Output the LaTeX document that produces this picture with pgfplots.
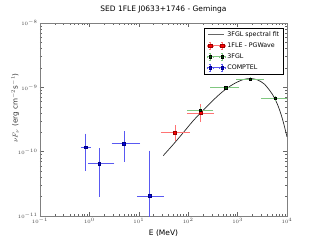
\documentclass[border=0pt]{standalone}
\usepackage{pgfplots}
\pgfplotsset{compat=1.18}
\usepackage{fontspec}
\setmainfont{DejaVu Sans}
\definecolor{errred}{rgb}{1,0.45,0.45}
\definecolor{errgreen}{rgb}{0.5,0.78,0.5}
\definecolor{errblue}{rgb}{0.35,0.35,0.95}
\definecolor{mgreen}{rgb}{0,0.35,0}
\newcommand{\errlegend}[4]{%
  \draw[#1, line width=0.7pt] (0pt,0pt)--(18pt,0pt)
    (3pt,-3.5pt)--(3pt,3.5pt) (15pt,-3.5pt)--(15pt,3.5pt)
    (1.8pt,-3.5pt)--(4.2pt,-3.5pt) (1.8pt,3.5pt)--(4.2pt,3.5pt)
    (13.8pt,-3.5pt)--(16.2pt,-3.5pt) (13.8pt,3.5pt)--(16.2pt,3.5pt)
    (0pt,-1.2pt)--(0pt,1.2pt) (6pt,-1.2pt)--(6pt,1.2pt)
    (12pt,-1.2pt)--(12pt,1.2pt) (18pt,-1.2pt)--(18pt,1.2pt);
  \draw[#2] plot[only marks, mark=square*, mark size=#4, mark options={fill=#2, draw=#3, line width=0.3pt}] coordinates {(3pt,0pt) (15pt,0pt)};
}
\pgfplotstableread{
x y xm xp ym yp
0.84 1.18e-10 0.11 0.16 6.5e-11 6.4e-11
1.58 6.5e-11 0.58 1.42 4.4e-11 4.2e-11
5.0 1.34e-10 2.0 5.0 6.1e-11 6.2e-11
16.3 2.05e-11 6.3 13.7 2.0e-11 7.85e-11
}\comptel
\pgfplotstableread{
x y xm xp ym yp
54 1.98e-10 24 46 4.2e-11 4.7e-11
176 4.0e-10 76 137 9.2e-11 1.15e-10
}\fle
\pgfplotstableread{
x y xm xp ym yp
176 4.45e-10 76 124 2e-11 2e-11
574 9.9e-10 274 426 2.5e-11 2.5e-11
1800 1.35e-9 800 1400 3e-11 3e-11
5800 6.8e-10 2600 4200 2.5e-11 2.5e-11
}\fgl
\begin{document}
\begin{tikzpicture}
\begin{axis}[
  name=main,
  scale only axis, width=247pt, height=193pt,
  xmode=log, ymode=log,
  xmin=0.1, xmax=1e4, ymin=1e-11, ymax=1e-8,
  xtick={0.1,1,10,100,1000,10000},
  ytick={1e-11,1e-10,1e-9,1e-8},
  axis line style={black!50, line width=0.9pt},
  tick style={black!60, line width=0.4pt},
  major tick length=4pt, minor tick length=2pt,
  tick align=inside,
  xtick pos=both, ytick pos=both,
  ticklabel style={font=\fontsize{5}{6}\selectfont, text=black!75},
  xticklabel style={yshift=1pt},
  yticklabel style={xshift=1pt},
  title={SED 1FLE J0633+1746 - Geminga},
  title style={font=\fontsize{7.5}{9}\selectfont, at={(axis description cs:0.5,1)}, anchor=south, yshift=0pt},
  xlabel={E (MeV)},
  xlabel style={font=\fontsize{7.5}{9}\selectfont, at={(axis description cs:0.5,0)}, anchor=north, yshift=-10pt},
  ylabel={$\nu F_\nu$ (erg cm$^{-2}$s$^{-1}$)},
  ylabel style={font=\fontsize{7.2}{8}\selectfont, at={(axis description cs:-0.1,0.56)}, anchor=center, text=black!80},
  legend style={at={(axis description cs:1,1)}, anchor=north east, xshift=-3pt, yshift=-4.5pt,
    font=\fontsize{6.3}{7.5}\selectfont, draw=black, line width=0.6pt, fill=white,
    inner xsep=2.5pt, inner ysep=1.8pt, row sep=0.8pt, cells={anchor=west}},
]
\addplot[black!85, line width=0.7pt, smooth,
  legend image code/.code={\draw[black!60, line width=0.8pt] (1pt,0pt)--(17pt,0pt);}]
coordinates {
(31.3,8.7e-11) (50,1.30e-10) (80,1.99e-10) (125,3.0e-10) (200,4.4e-10)
(316,6.25e-10) (500,8.6e-10) (800,1.11e-9) (1260,1.31e-9) (1782,1.37e-9)
(2500,1.31e-9) (3500,1.12e-9) (5000,7.9e-10) (6300,5.6e-10) (7500,3.9e-10)
(8500,2.8e-10) (10000,1.7e-10)};
\addlegendentry{3FGL spectral fit}

\addplot[only marks, mark=square*, mark size=1.6pt, red,
  mark options={fill=red, draw=red!60!black, line width=0.3pt},
  legend image code/.code={\errlegend{errred}{red}{red!60!black}{1.6pt}},
  error bars/.cd, x dir=both, y dir=both, x explicit, y explicit,
  error bar style={errred, line width=0.7pt},
  error mark options={errred, mark size=1.4pt, line width=0.7pt}]
  table[x=x, y=y, x error minus=xm, x error plus=xp, y error minus=ym, y error plus=yp]{\fle};
\addlegendentry{1FLE - PGWave}

\addplot[only marks, mark=square*, mark size=1.2pt, mgreen,
  mark options={fill=mgreen, draw=black, line width=0.3pt},
  legend image code/.code={\errlegend{errgreen}{mgreen}{black}{1.2pt}},
  error bars/.cd, x dir=both, y dir=both, x explicit, y explicit,
  error bar style={errgreen, line width=0.7pt},
  error mark options={errgreen, mark size=1.4pt, line width=0.7pt}]
  table[x=x, y=y, x error minus=xm, x error plus=xp, y error minus=ym, y error plus=yp]{\fgl};
\addlegendentry{3FGL}

\addplot[only marks, mark=square*, mark size=1.4pt, blue,
  mark options={fill=blue!90!black, draw=blue!50!black, line width=0.3pt},
  legend image code/.code={\errlegend{errblue}{blue!90!black}{blue!50!black}{1.4pt}},
  error bars/.cd, x dir=both, y dir=both, x explicit, y explicit,
  error bar style={errblue, line width=0.7pt},
  error mark options={errblue, mark size=1.4pt, line width=0.7pt}]
  table[x=x, y=y, x error minus=xm, x error plus=xp, y error minus=ym, y error plus=yp]{\comptel};
\addlegendentry{COMPTEL}
\end{axis}
\pgfresetboundingbox
\path[use as bounding box] (main.south west) ++(-40pt,-24pt) rectangle ++(320pt,240pt);
\end{tikzpicture}
\end{document}
